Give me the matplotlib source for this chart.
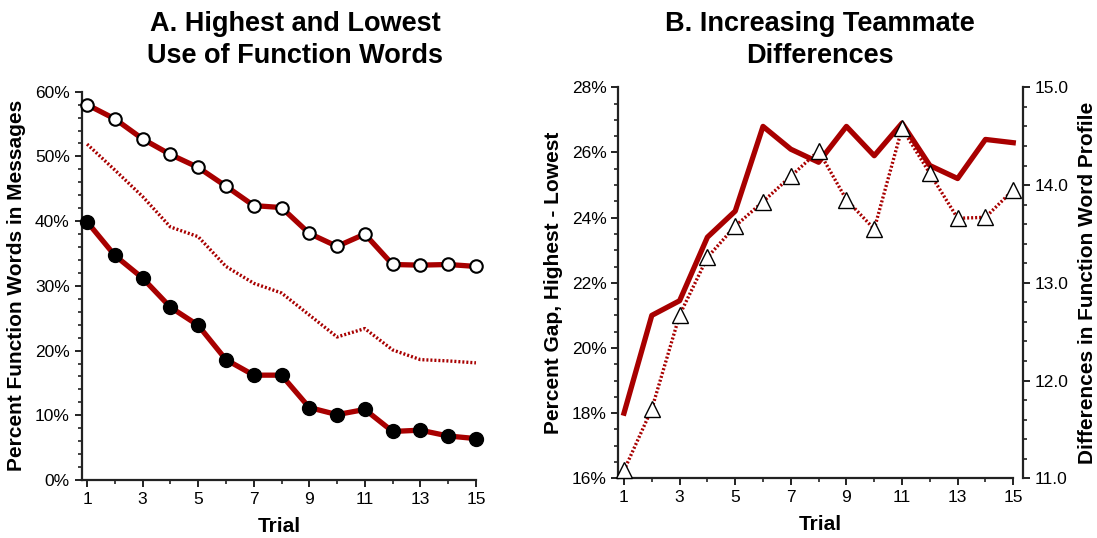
import matplotlib
matplotlib.use("Agg")
import matplotlib.pyplot as plt
from matplotlib.ticker import MultipleLocator, FuncFormatter, FixedLocator

plt.rcParams['font.family'] = ['Liberation Sans', 'DejaVu Sans']

trials = list(range(1, 16))
highest = [58.0, 55.8, 52.7, 50.3, 48.3, 45.4, 42.4, 42.1, 38.1, 36.1, 38.0, 33.3, 33.2, 33.3, 33.0]
lowest = [39.9, 34.7, 31.2, 26.7, 23.9, 18.6, 16.2, 16.2, 11.2, 10.1, 10.9, 7.5, 7.7, 6.8, 6.4]
middle = [51.9, 47.9, 43.8, 39.1, 37.6, 33.0, 30.4, 28.9, 25.5, 22.1, 23.4, 20.1, 18.6, 18.4, 18.1]
gap = [18.0, 21.0, 21.45, 23.4, 24.2, 26.8, 26.1, 25.7, 26.8, 25.9, 26.9, 25.6, 25.2, 26.4, 26.3]
profile_diff = [11.08, 11.71, 12.67, 13.26, 13.58, 13.83, 14.09, 14.35, 13.85, 13.55, 14.58, 14.12, 13.66, 13.67, 13.95]

RED = '#a80000'
W, H = 1097, 538
fig = plt.figure(figsize=(W / 100, H / 100), dpi=100)

def style_axis(ax):
    for s in ['top', 'right']:
        ax.spines[s].set_visible(False)
    for s in ['left', 'bottom']:
        ax.spines[s].set_linewidth(1.6)
        ax.spines[s].set_color('#222222')
    ax.tick_params(which='major', length=5, width=1.4, labelsize=12.5, color='#222222')
    ax.tick_params(which='minor', length=3, width=1.2, color='#222222')
    ax.xaxis.set_major_locator(FixedLocator([1, 3, 5, 7, 9, 11, 13, 15]))
    ax.xaxis.set_minor_locator(FixedLocator([2, 4, 6, 8, 10, 12, 14]))
    ax.set_xlabel('Trial', fontsize=15, fontweight='bold', labelpad=7)

# Panel A
axA = fig.add_axes([81.5 / W, 58 / H, 395 / W, 388.3 / H])
style_axis(axA)
axA.set_xlim(0.8, 15.02)
axA.set_ylim(0, 60)
axA.spines['bottom'].set_bounds(0.8, 15)
axA.yaxis.set_major_locator(MultipleLocator(10))
axA.yaxis.set_minor_locator(MultipleLocator(2))
axA.yaxis.set_major_formatter(FuncFormatter(lambda v, p: f'{v:.0f}%'))
axA.plot(trials, middle, color=RED, lw=2.4, linestyle=(0, (0.6, 0.6)), clip_on=False)
axA.plot(trials, highest, color=RED, lw=3.8, marker='o', ms=9, mfc='white', mec='black', mew=1.5, clip_on=False, zorder=3)
axA.plot(trials, lowest, color=RED, lw=3.8, marker='o', ms=10, mfc='black', mec='black', mew=1.0, clip_on=False, zorder=3)
axA.set_ylabel('Percent Function Words in Messages', fontsize=15, fontweight='bold', labelpad=6)
fig.text(295 / W, 1 - 40 / H, 'A. Highest and Lowest\nUse of Function Words', ha='center', va='center',
         fontsize=19.5, fontweight='bold', linespacing=1.32)

# Panel B
axB = fig.add_axes([618.3 / W, 59.7 / H, 404.4 / W, 391 / H])
style_axis(axB)
axB.set_xlim(0.795, 15.34)
axB.set_ylim(16, 28)
axB.spines['bottom'].set_bounds(0.795, 15)
axB.yaxis.set_major_locator(MultipleLocator(2))
axB.yaxis.set_minor_locator(MultipleLocator(0.5))
axB.yaxis.set_major_formatter(FuncFormatter(lambda v, p: f'{v:.0f}%'))
axB.plot(trials, gap, color=RED, lw=3.8, clip_on=False, zorder=3)
axB.set_ylabel('Percent Gap, Highest - Lowest', fontsize=15, fontweight='bold', labelpad=6)

axR = axB.twinx()
axR.set_ylim(11, 15)
for s in ['top', 'left', 'bottom']:
    axR.spines[s].set_visible(False)
axR.spines['right'].set_linewidth(1.6)
axR.spines['right'].set_color('#222222')
axR.yaxis.set_major_locator(MultipleLocator(1))
axR.yaxis.set_minor_locator(MultipleLocator(0.2))
axR.yaxis.set_major_formatter(FuncFormatter(lambda v, p: f'{v:.1f}'))
axR.tick_params(which='major', length=5, width=1.4, labelsize=12.5, color='#222222')
axR.tick_params(which='minor', length=3, width=1.2, color='#222222')
axR.plot(trials, profile_diff, color=RED, lw=2.4, linestyle=(0, (0.6, 0.6)), marker='^', ms=11,
         mfc='white', mec='black', mew=1.0, clip_on=False, zorder=2)
axR.set_ylabel('Differences in Function Word Profile', fontsize=15, fontweight='bold', labelpad=7)
fig.text(820 / W, 1 - 40 / H, 'B. Increasing Teammate\nDifferences', ha='center', va='center',
         fontsize=19.5, fontweight='bold', linespacing=1.32)

fig.savefig('out.png', dpi=100)
